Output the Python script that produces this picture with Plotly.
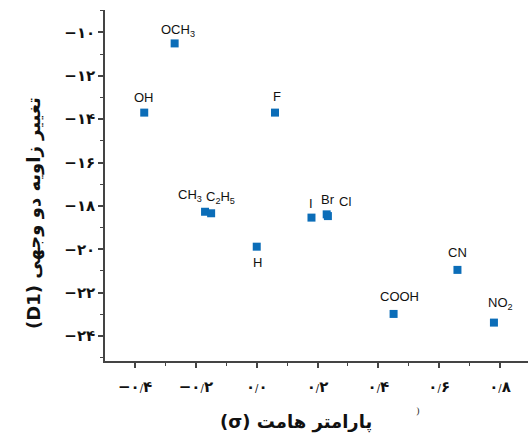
import plotly.graph_objects as go

# ---- data ----
substituents = ["OCH3", "OH", "F", "CH3", "C2H5", "H", "I", "Br", "Cl", "COOH", "CN", "NO2"]
sigma = [-0.27, -0.37, 0.06, -0.17, -0.15, 0.00, 0.18, 0.23, 0.234, 0.45, 0.66, 0.78]
d1 = [-10.51, -13.70, -13.70, -18.27, -18.34, -19.88, -18.54, -18.39, -18.47, -22.98, -20.95, -23.38]
point_labels = ["OCH<sub>3</sub>", "OH", "F", "CH<sub>3</sub>", "C<sub>2</sub>H<sub>5</sub>", "H",
                "I", "Br", "Cl", "COOH", "CN", "NO<sub>2</sub>"]

y_tickvals = [-10, -12, -14, -16, -18, -20, -22, -24]
y_ticktext = ["−۱۰", "−۱۲", "−۱۴", "−۱۶", "−۱۸", "−۲۰", "−۲۲", "−۲۴"]
x_tickvals = [-0.4, -0.2, 0.0, 0.2, 0.4, 0.6, 0.8]
x_ticktext = ["−۰/۴", "−۰/۲", "۰/۰", "۰/۲", "۰/۴", "۰/۶", "۰/۸"]

x_title = "(σ) پارامتر هامت"
y_title = "(D1) تغییر زاویه دو وجهی"

# ---- label placement styles (pixel shifts) ----
label_shift = {
    "OCH3": (3, 13), "OH": (0, 15), "F": (2, 16), "CH3": (-15, 16), "C2H5": (9, 16),
    "H": (1, -16), "I": (0, 14), "Br": (1, 15), "Cl": (17, 15), "COOH": (6, 17),
    "CN": (0, 17), "NO2": (7, 19),
}

marker_color = "#0b6db8"
axis_color = "#444444"


def styled_tick(t):
    # thin, small decimal slash like the reference
    t = t.replace("/", "<span style='font-size:10px;font-weight:normal'>/</span>")
    return "<b>" + t + "</b>"


fig = go.Figure()
fig.add_trace(go.Scatter(
    x=sigma, y=d1, mode="markers",
    marker=dict(symbol="square", size=8, color=marker_color),
    hoverinfo="skip", showlegend=False,
))

for name, xv, yv, lab in zip(substituents, sigma, d1, point_labels):
    dx, dy = label_shift[name]
    fig.add_annotation(x=xv, y=yv, text=lab, showarrow=False, xshift=dx, yshift=dy,
                       font=dict(family="Liberation Sans, Arial, sans-serif", size=13, color="#111111"))

# axis titles
fig.add_annotation(xref="paper", yref="paper", x=(296 - 105) / 423, y=(361 - 422) / 351,
                   xanchor="center", yanchor="middle",
                   text="<b>" + x_title + "</b>", showarrow=False,
                   font=dict(family="DejaVu Sans, sans-serif", size=18, color="#111111"))
fig.add_annotation(xref="paper", yref="paper", x=(34 - 105) / 423, y=(361 - 213) / 351,
                   xanchor="center", yanchor="middle",
                   text="<b>" + y_title + "</b>", showarrow=False, textangle=-90,
                   font=dict(family="DejaVu Sans, sans-serif", size=18, color="#111111"))
# stray mark
fig.add_annotation(xref="paper", yref="paper", x=(418 - 105) / 423, y=(361 - 410) / 351,
                   xanchor="center", yanchor="middle",
                   text=")", showarrow=False,
                   font=dict(family="DejaVu Serif, serif", size=10, color="#333333"))

tickfont = dict(family="DejaVu Sans, sans-serif", size=15, color="#111111")

fig.update_xaxes(
    range=[-0.499, 0.892], tickvals=x_tickvals, ticktext=[styled_tick(t) for t in x_ticktext],
    showline=True, linecolor=axis_color, linewidth=1.5, ticks="outside", ticklen=5,
    tickwidth=1.5, tickcolor=axis_color, showgrid=False, zeroline=False, tickfont=tickfont,
    ticklabelstandoff=6, automargin=False,
    minor=dict(dtick=0.1, tick0=0, ticks="outside", ticklen=3, tickcolor=axis_color, tickwidth=1),
)
fig.update_yaxes(
    range=[-25.15, -8.97], tickvals=y_tickvals, ticktext=[styled_tick(t) for t in y_ticktext],
    showline=True, linecolor=axis_color, linewidth=1.5, ticks="outside", ticklen=5,
    tickwidth=1.5, tickcolor=axis_color, showgrid=False, zeroline=False, tickfont=tickfont,
    automargin=False,
    minor=dict(dtick=2, tick0=-9, ticks="outside", ticklen=3, tickcolor=axis_color, tickwidth=1),
)

fig.update_layout(
    width=528, height=435,
    margin=dict(l=105, r=0, t=10, b=74),
    plot_bgcolor="white", paper_bgcolor="white",
)

fig.write_html("out.html", config={"displayModeBar": False},
               post_script="document.body.style.margin='0';")
